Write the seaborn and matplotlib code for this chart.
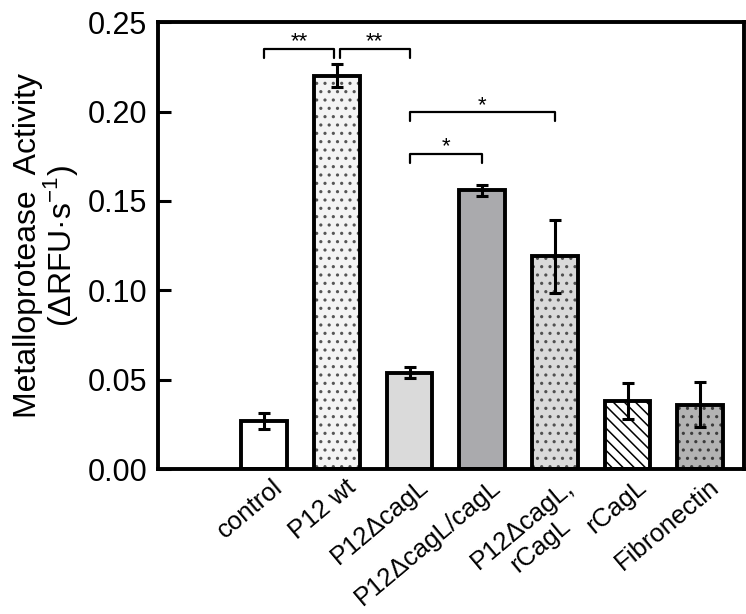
import numpy as np
import pandas as pd
import seaborn as sns
import matplotlib.pyplot as plt
import matplotlib.transforms as mtransforms
from matplotlib.patches import Rectangle

# values
groups = ["control", "P12 wt", "P12ΔcagL", "P12ΔcagL/cagL", "P12ΔcagL,\nrCagL", "rCagL", "Fibronectin"]
activity = [0.027, 0.220, 0.054, 0.156, 0.119, 0.038, 0.036]
err = [0.0045, 0.0065, 0.003, 0.003, 0.0205, 0.0102, 0.0125]
fills = ["#ffffff", "#f4f4f4", "#dadada", "#a9a9ad", "#dadada", "#ffffff", "#b3b3b3"]
hatches = ["", "..", "", "", "..", "\\\\\\", ".."]
hatch_cols = ["#000000", "#555555", "#000000", "#000000", "#505050", "#000000", "#3c3c3c"]
# significance brackets: (group a, group b, height, label)
sig = [(0, 1, 0.2349, "**"), (1, 2, 0.2349, "**"),
       (2, 3, 0.1762, "*"), (2, 4, 0.1995, "*")]

df = pd.DataFrame({"group": groups, "activity": activity})

sns.set_style("ticks")
plt.rcParams['font.family'] = ['Liberation Sans', 'DejaVu Sans']
plt.rcParams['mathtext.fontset'] = 'custom'
plt.rcParams['mathtext.rm'] = 'Liberation Sans'
plt.rcParams['hatch.linewidth'] = 1.1
for k in ['text.color', 'axes.labelcolor', 'xtick.color', 'ytick.color', 'axes.edgecolor']:
    plt.rcParams[k] = 'black'

fig = plt.figure(figsize=(7.46, 6.14), dpi=100)
ax = fig.add_axes([0.212, 0.236, 0.785, 0.728])

sns.barplot(data=df, x="group", y="activity", hue="group", order=groups,
            palette=dict(zip(groups, fills)), legend=False, width=0.63,
            errorbar=None, linewidth=0, ax=ax)

for p, h, hc in zip(ax.patches, hatches, hatch_cols):
    p.set_hatch(h)
    p.set_edgecolor(hc)
    ax.add_patch(Rectangle(p.get_xy(), p.get_width(), p.get_height(),
                           fill=False, ec="black", lw=2.8, zorder=3))

pos = np.arange(len(groups))
ax.errorbar(pos, activity, yerr=err, fmt="none", ecolor="black",
            elinewidth=2.2, capsize=4.5, capthick=2.2, zorder=4)

for a, b, h, lab in sig:
    xa, xb = a, b
    if a == 1:
        xa += 0.04
    if b == 1:
        xb -= 0.04
    ax.plot([xa, xa, xb, xb], [h - 0.005, h, h, h - 0.005], color="black", lw=1.6)
    ax.text((xa + xb) / 2, h + 0.0008, lab, ha="center", va="baseline", fontsize=16)

ax.set_xlim(-1.46, 6.6)
ax.set_ylim(0, 0.25)
ax.set_yticks([0, 0.05, 0.10, 0.15, 0.20, 0.25])
ax.set_yticklabels(["0.00", "0.05", "0.10", "0.15", "0.20", "0.25"])
ax.tick_params(axis="y", direction="in", length=9, width=2.2, labelsize=22, pad=8)
ax.tick_params(axis="x", length=0, labelsize=18.5, pad=4)
ax.set_xticks(pos)
ax.set_xticklabels(groups, rotation=40, ha="right", rotation_mode="anchor",
                   multialignment="center")
shift = mtransforms.ScaledTranslation(0.08, 0.0, fig.dpi_scale_trans)
for t in ax.get_xticklabels():
    t.set_transform(t.get_transform() + shift)
ax.set_xlabel("")
ax.set_ylabel("Metalloprotease  Activity\n(ΔRFU·s$^{-1}$)", fontsize=23, labelpad=5,
              linespacing=0.95)
for s in ax.spines.values():
    s.set_linewidth(2.8)

fig.savefig("out.png", dpi=100)
